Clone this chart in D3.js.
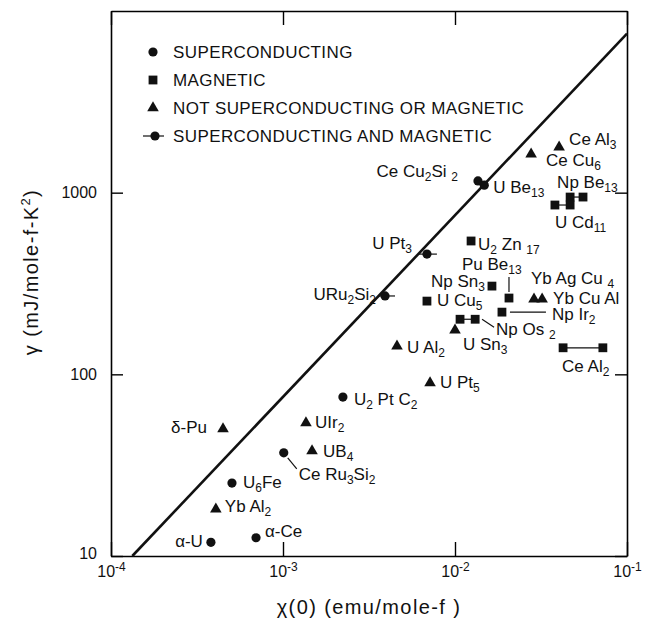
<!doctype html>
<html>
<head>
<meta charset="utf-8"/>
<title>gamma vs chi(0)</title>
<script src="https://d3js.org/d3.v7.min.js"></script>
<style>
body { margin: 0; background: #fff; }
text { font-family: "Liberation Sans", Arial, Helvetica, sans-serif; fill: #111; }
</style>
</head>
<body>
<div id="chart"></div>
<script>
// superconducting (filled circles)
var scNames = ["Ce Cu_2Si _2", "U Be_13", "U_2 Pt C_2", "Ce Ru_3Si_2", "U_6Fe", "\u03b1-U", "\u03b1-Ce"];
var scChi   = [0.0136, 0.0148, 0.00223, 0.00101, 0.000505, 0.000381, 0.000697];
var scGamma = [1160, 1100, 75, 37, 25.2, 11.9, 12.6];

// magnetic (filled squares)
var magNames = ["U_2 Zn _17", "Np Sn_3", "Pu Be_13", "U Cu_5", "Np Ir_2"];
var magChi   = [0.0124, 0.0164, 0.0206, 0.00687, 0.01875];
var magGamma = [542, 306, 263, 253, 220];

// magnetic, two chi values joined by a line
var magRangeNames = ["Np Be_13", "U Cd_11", "Np Os _2", "Ce Al_2"];
var magRangeChiLo = [0.0467, 0.0381, 0.0107, 0.0425];
var magRangeChiHi = [0.0555, 0.0467, 0.0131, 0.0724];
var magRangeGamma = [946, 855, 201, 140];

// not superconducting or magnetic (filled triangles)
var nsNames = ["Ce Al_3", "Ce Cu_6", "Yb Ag Cu _4", "Yb Cu Al", "U Sn_3", "U Al_2", "U Pt_5", "\u03b4-Pu", "UIr_2", "UB_4", "Yb Al_2"];
var nsChi   = [0.0403, 0.0277, 0.0288, 0.0321, 0.0100, 0.0046, 0.00716, 0.000448, 0.00136, 0.001475, 0.000407];
var nsGamma = [1780, 1630, 259, 259, 175, 143, 89.6, 50, 54, 37.9, 18.1];

// superconducting and magnetic (circle with bar)
var scmNames = ["U Pt_3", "URu_2Si_2"];
var scmChi   = [0.00687, 0.00392];
var scmChiLo = [0.00618, 0.00362];
var scmChiHi = [0.00785, 0.00448];
var scmGamma = [459, 270];

// straight line across the plot
var lineChi   = [1.33e-4, 0.1];
var lineGamma = [10, 7500];

var xTicks = [1e-4, 1e-3, 1e-2, 1e-1];
var yTicks = [10, 100, 1000];
var legendLabels = ["SUPERCONDUCTING", "MAGNETIC", "NOT SUPERCONDUCTING OR MAGNETIC", "SUPERCONDUCTING AND MAGNETIC"];

// label placement relative to the mark: [dx, dy, anchor]
var labelPos = {
  "Ce Cu_2Si _2": [-20, -4, "end"], "U Be_13": [9, 8], "U_2 Pt C_2": [11, 8],
  "Ce Ru_3Si_2": [15, 27], "U_6Fe": [11, 5], "\u03b1-U": [-8, 5, "end"], "\u03b1-Ce": [9, -1],
  "U_2 Zn _17": [7, 9], "Np Sn_3": [-7, 1, "end"], "Pu Be_13": [-47, -28], "U Cu_5": [10, 5],
  "Np Ir_2": [50, 8], "Np Be_13": [-13, -9], "U Cd_11": [0, 23], "Np Os _2": [36, 16],
  "Ce Al_2": [-1, 24], "Ce Al_3": [10, -2], "Ce Cu_6": [15, 12], "Yb Ag Cu _4": [-3, -15],
  "Yb Cu Al": [11, 5], "U Sn_3": [8, 20], "U Al_2": [10, 7], "U Pt_5": [10, 5],
  "\u03b4-Pu": [-16, 4, "end"], "UIr_2": [9, 5], "UB_4": [11, 6], "Yb Al_2": [9, 3],
  "U Pt_3": [-15, -5, "end"], "URu_2Si_2": [-9, 4, "end"]
};
// leader lines relative to the mark: [x1, y1, x2, y2]
var leaders = {
  "Pu Be_13": [0, -21, 0, -6], "Np Ir_2": [8, 0, 44, 0],
  "Np Os _2": [22, 0, 34, 8], "Ce Ru_3Si_2": [4, 5, 13, 16]
};

var W = 659, H = 619;
var svg = d3.select("#chart").append("svg").attr("width", W).attr("height", H);

var x = d3.scaleLog().domain([1e-4, 1e-1]).range([111, 627]);
var y = d3.scaleLog().domain([10, 1e4]).range([556, 11]);

function label(str, px, py) {
  var p = labelPos[str] || [8, 5];
  var t = svg.append("text")
    .attr("x", px + p[0]).attr("y", py + p[1])
    .attr("text-anchor", p[2] || "start")
    .attr("font-size", 17);
  var low = false;
  str.split(/(_\d+)/).forEach(function (s) {
    if (!s) return;
    if (s[0] === "_") {
      t.append("tspan").attr("font-size", 12).attr("dy", low ? 0 : 4).text(s.slice(1));
      low = true;
    } else {
      t.append("tspan").attr("dy", low ? -4 : 0).text(s);
      low = false;
    }
  });
  var l = leaders[str];
  if (l) {
    svg.append("line")
      .attr("x1", px + l[0]).attr("y1", py + l[1])
      .attr("x2", px + l[2]).attr("y2", py + l[3])
      .attr("stroke", "#111").attr("stroke-width", 1.2);
  }
}

function circle(cx, cy) {
  svg.append("circle").attr("cx", cx).attr("cy", cy).attr("r", 4.6).attr("fill", "#111");
}
function square(cx, cy) {
  svg.append("rect").attr("x", cx - 4.4).attr("y", cy - 4.4)
    .attr("width", 8.8).attr("height", 8.8).attr("fill", "#111");
}
var tri = d3.symbol().type(d3.symbolTriangle).size(58);
function triangle(cx, cy) {
  svg.append("path").attr("d", tri()).attr("transform", "translate(" + cx + "," + cy + ")").attr("fill", "#111");
}
function hbar(x1, x2, cy) {
  svg.append("line").attr("x1", x1).attr("x2", x2).attr("y1", cy).attr("y2", cy)
    .attr("stroke", "#111").attr("stroke-width", 1.2);
}

// axes
function styleAxis(g) {
  g.select(".domain").attr("stroke-width", 1.6);
  g.selectAll(".tick line").attr("stroke-width", 1.4);
  g.attr("font-size", 16);
}
var gx = svg.append("g").attr("transform", "translate(0,556)")
  .call(d3.axisBottom(x).tickValues(xTicks).tickSize(-14).tickSizeOuter(0).tickPadding(10).tickFormat(""))
  .call(styleAxis);
gx.selectAll(".tick text").each(function (d) {
  var t = d3.select(this);
  t.append("tspan").text("10");
  t.append("tspan").attr("dy", "-0.55em").attr("font-size", 12).text(Math.round(Math.log10(d)));
});
svg.append("g").attr("transform", "translate(0,11)")
  .call(d3.axisTop(x).tickValues(xTicks).tickSize(-14).tickSizeOuter(0).tickFormat(""))
  .call(styleAxis);
var gy = svg.append("g").attr("transform", "translate(111,0)")
  .call(d3.axisLeft(y).tickValues(yTicks).tickSize(-12).tickSizeOuter(0).tickPadding(14).tickFormat(d3.format("d")))
  .call(styleAxis);
// the bottom label sits a little above the corner
gy.selectAll(".tick text").filter(function (d) { return d === yTicks[0]; }).attr("y", -3);
svg.append("g").attr("transform", "translate(627,0)")
  .call(d3.axisRight(y).tickValues(yTicks).tickSize(-12).tickSizeOuter(0).tickFormat(""))
  .call(styleAxis);

// axis titles
svg.append("text").attr("x", 369).attr("y", 614).attr("text-anchor", "middle")
  .attr("font-size", 20).attr("letter-spacing", 1.4).text("\u03c7(0) (emu/mole-f )");
var yt = svg.append("text").attr("transform", "translate(38,272) rotate(-90)")
  .attr("text-anchor", "middle").attr("font-size", 20).attr("letter-spacing", 1.4);
yt.append("tspan").text("\u03b3 (mJ/mole-f-K");
yt.append("tspan").attr("dy", -8).attr("font-size", 13).text("2");
yt.append("tspan").attr("dy", 8).text(")");

// line
svg.append("path")
  .datum(d3.range(lineChi.length))
  .attr("d", d3.line().x(function (i) { return x(lineChi[i]); }).y(function (i) { return y(lineGamma[i]); }))
  .attr("stroke", "#111").attr("stroke-width", 2.6).attr("fill", "none");

// points
scNames.forEach(function (n, i) {
  circle(x(scChi[i]), y(scGamma[i]));
  label(n, x(scChi[i]), y(scGamma[i]));
});
magNames.forEach(function (n, i) {
  square(x(magChi[i]), y(magGamma[i]));
  label(n, x(magChi[i]), y(magGamma[i]));
});
magRangeNames.forEach(function (n, i) {
  var x1 = x(magRangeChiLo[i]), x2 = x(magRangeChiHi[i]), cy = y(magRangeGamma[i]);
  hbar(x1, x2, cy);
  square(x1, cy);
  square(x2, cy);
  label(n, x1, cy);
});
nsNames.forEach(function (n, i) {
  triangle(x(nsChi[i]), y(nsGamma[i]));
  label(n, x(nsChi[i]), y(nsGamma[i]));
});
scmNames.forEach(function (n, i) {
  var cy = y(scmGamma[i]);
  hbar(x(scmChiLo[i]), x(scmChiHi[i]), cy);
  circle(x(scmChi[i]), cy);
  label(n, x(scmChi[i]), cy);
});

// legend
var legY = [52, 80, 108, 136];
circle(153, legY[0]);
square(153, legY[1]);
triangle(153, legY[2]);
hbar(143, 164, legY[3]);
circle(155, legY[3]);
legendLabels.forEach(function (s, i) {
  svg.append("text").attr("x", 173).attr("y", legY[i] + 6)
    .attr("font-size", 17).attr("letter-spacing", 0.4).text(s);
});
</script>
</body>
</html>
